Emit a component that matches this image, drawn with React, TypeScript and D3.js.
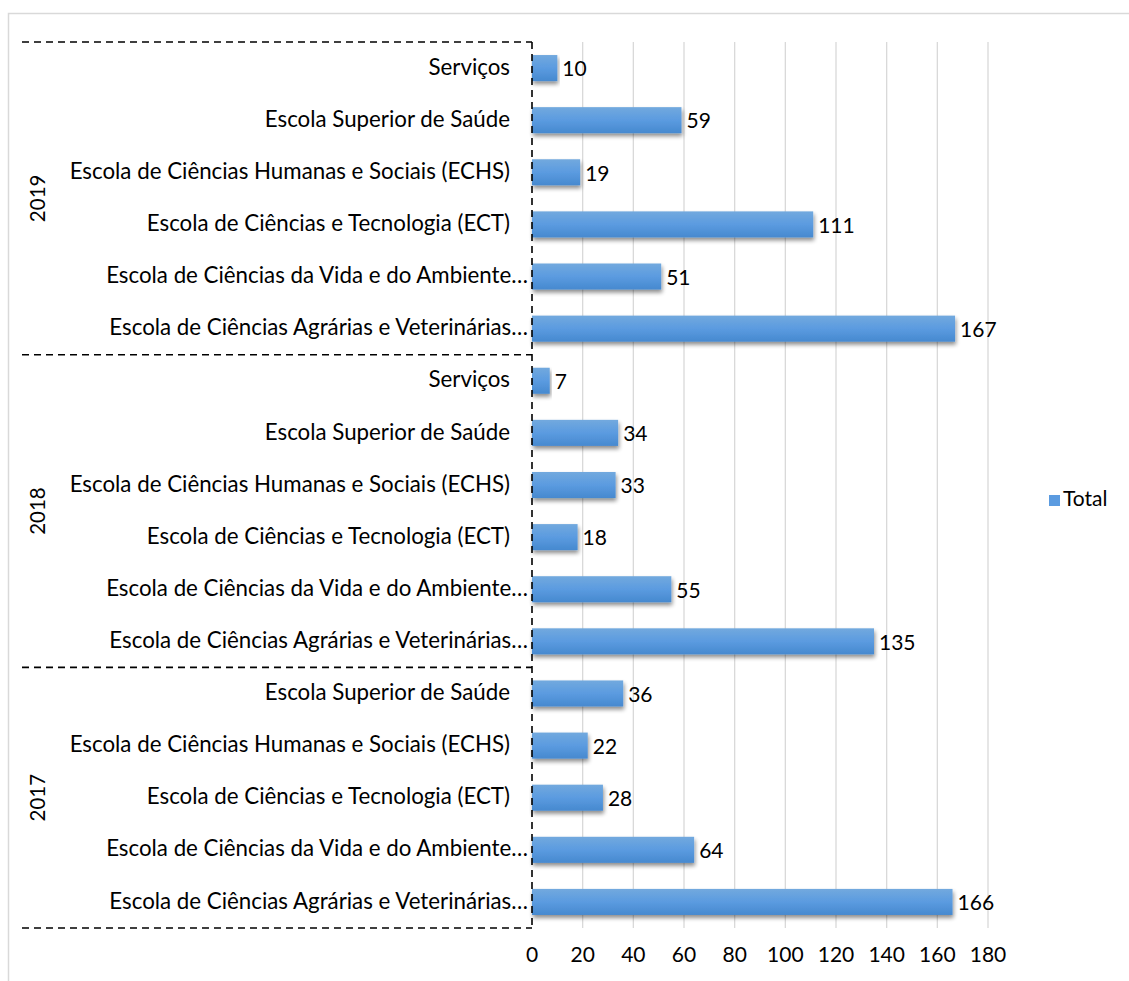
import React from "react";
import * as d3 from "d3";

const years = ["2019", "2018", "2017"];
const cats2019 = [
  "Serviços",
  "Escola Superior de Saúde",
  "Escola de Ciências Humanas e Sociais (ECHS)",
  "Escola de Ciências e Tecnologia (ECT)",
  "Escola de Ciências da Vida e do Ambiente…",
  "Escola de Ciências Agrárias e Veterinárias…",
];
const vals2019 = [10, 59, 19, 111, 51, 167];
const cats2018 = [
  "Serviços",
  "Escola Superior de Saúde",
  "Escola de Ciências Humanas e Sociais (ECHS)",
  "Escola de Ciências e Tecnologia (ECT)",
  "Escola de Ciências da Vida e do Ambiente…",
  "Escola de Ciências Agrárias e Veterinárias…",
];
const vals2018 = [7, 34, 33, 18, 55, 135];
const cats2017 = [
  "Escola Superior de Saúde",
  "Escola de Ciências Humanas e Sociais (ECHS)",
  "Escola de Ciências e Tecnologia (ECT)",
  "Escola de Ciências da Vida e do Ambiente…",
  "Escola de Ciências Agrárias e Veterinárias…",
];
const vals2017 = [36, 22, 28, 64, 166];
const xTicks = [0, 20, 40, 60, 80, 100, 120, 140, 160, 180];
const seriesName = "Total";

const groups = [
  { year: years[0], cats: cats2019, vals: vals2019 },
  { year: years[1], cats: cats2018, vals: vals2018 },
  { year: years[2], cats: cats2017, vals: vals2017 },
];

type Row = { key: string; cat: string; val: number; year: string };
const rows: Row[] = [];
groups.forEach((g) =>
  g.cats.forEach((c, i) => rows.push({ key: g.year + "|" + i, cat: c, val: g.vals[i], year: g.year }))
);

const FONT = "Lato, 'Open Sans', sans-serif";

export default function App() {
  const W = 1129;
  const H = 981;
  const x0 = 532;
  const x1 = 988;
  const top = 42;
  const bottom = 928;
  const x = d3.scaleLinear().domain([0, 180]).range([x0, x1]);
  const y = d3
    .scaleBand<string>()
    .domain(rows.map((r) => r.key))
    .range([top, bottom])
    .paddingInner(0.5)
    .paddingOuter(0.25);
  const step = y.step();

  let acc = 0;
  const bounds = groups.map((g) => {
    const start = top + acc * step;
    acc += g.cats.length;
    const end = top + acc * step;
    return { year: g.year, start, end };
  });

  const dash = "7,5";
  return (
    <svg
      width={W}
      height={H}
      style={{ position: "absolute", left: 0, top: 0, background: "#fff" }}
      fontFamily={FONT}
    >
      <defs>
        <linearGradient id="barGrad" x1="0" y1="0" x2="0" y2="1">
          <stop offset="0%" stopColor="#72a9de" />
          <stop offset="50%" stopColor="#5b9be0" />
          <stop offset="100%" stopColor="#4689cf" />
        </linearGradient>
        <filter id="shadow" x="-5%" y="-30%" width="115%" height="180%">
          <feGaussianBlur in="SourceAlpha" stdDeviation="2" />
          <feOffset dx="1" dy="3" result="ob" />
          <feComponentTransfer>
            <feFuncA type="linear" slope="0.45" />
          </feComponentTransfer>
          <feMerge>
            <feMergeNode />
            <feMergeNode in="SourceGraphic" />
          </feMerge>
        </filter>
      </defs>
      <rect x={8.5} y={13.5} width={W + 10} height={H + 10} fill="none" stroke="#d9d9d9" strokeWidth={1.5} />
      {xTicks.slice(1).map((t) => (
        <line key={t} x1={x(t)} x2={x(t)} y1={top} y2={bottom} stroke="#d9d9d9" strokeWidth={1.3} />
      ))}
      {rows.map((r) => (
        <rect
          key={r.key}
          x={x(0)}
          y={y(r.key)}
          width={x(r.val) - x(0)}
          height={y.bandwidth()}
          fill="url(#barGrad)"
          filter="url(#shadow)"
        />
      ))}
      {rows.map((r) => (
        <text
          key={"l" + r.key}
          x={x(r.val) + 5}
          y={(y(r.key) as number) + y.bandwidth() / 2 + 3}
          dominantBaseline="middle"
          fontSize={21}
          fill="#000"
        >
          {r.val}
        </text>
      ))}
      {rows.map((r) => {
        const trunc = r.cat.endsWith("…");
        return (
          <text
            key={"c" + r.key}
            x={trunc ? 528 : 510}
            y={(y(r.key) as number) + y.bandwidth() / 2 + 1}
            textAnchor="end"
            dominantBaseline="middle"
            fontSize={22.3}
            fill="#000"
          >
            {r.cat}
          </text>
        );
      })}
      {[bounds[0].start, ...bounds.map((b) => b.end)].map((yy, i) => (
        <line key={"h" + i} x1={22} x2={x0} y1={yy} y2={yy} stroke="#000" strokeWidth={1.6} strokeDasharray={dash} />
      ))}
      <line x1={x0} x2={x0} y1={top} y2={bottom} stroke="#000" strokeWidth={1.6} strokeDasharray={dash} />
      {bounds.map((b) => (
        <text
          key={"y" + b.year}
          transform={`translate(40,${(b.start + b.end) / 2}) rotate(-90)`}
          textAnchor="middle"
          dominantBaseline="middle"
          fontSize={20.5}
          fill="#000"
        >
          {b.year}
        </text>
      ))}
      {xTicks.map((t) => (
        <text key={"t" + t} x={x(t)} y={957} textAnchor="middle" dominantBaseline="middle" fontSize={21} fill="#000">
          {t}
        </text>
      ))}
      <rect x={1049} y={495} width={11} height={11} fill="#5b9be0" />
      <text x={1063} y={501} dominantBaseline="middle" fontSize={21} fill="#000">
        {seriesName}
      </text>
    </svg>
  );
}
